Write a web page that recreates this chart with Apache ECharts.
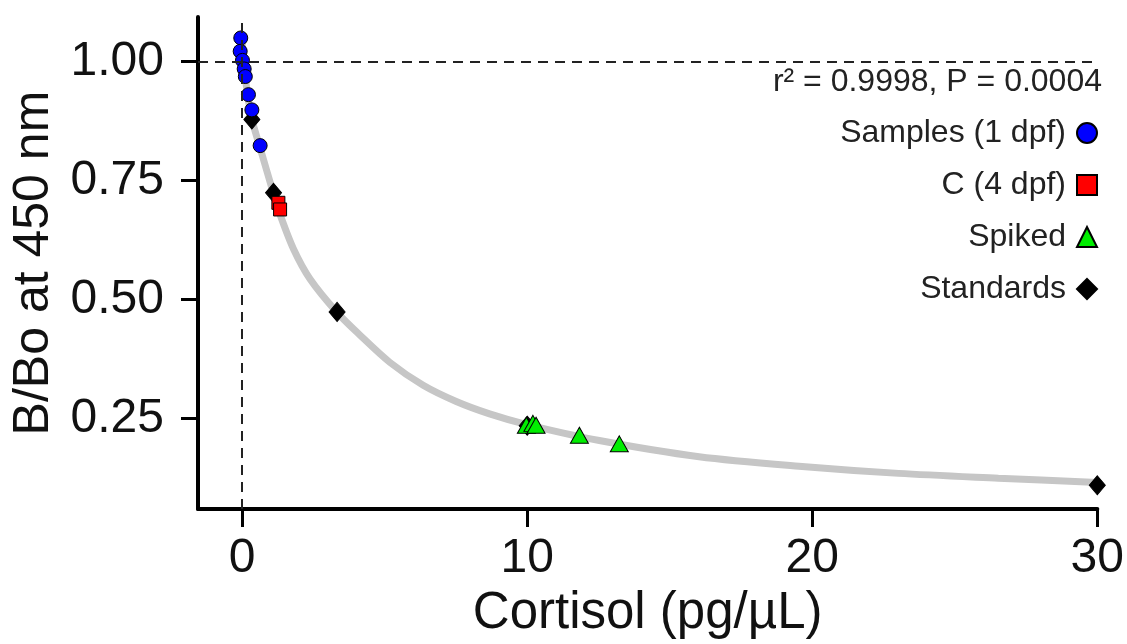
<!DOCTYPE html>
<html>
<head>
<meta charset="utf-8">
<title>Cortisol standard curve</title>
<script src="https://cdn.jsdelivr.net/npm/echarts@6/dist/echarts.min.js"></script>
<style>
body{margin:0;background:#fff;}
#main{width:1127px;height:644px;}
</style>
</head>
<body>
<div id="main"></div>
<script>
// points: [cortisol pg/uL, B/Bo]
var samples=[[-0.05,1.049],[-0.07,1.021],[0.01,1.002],[0.07,0.984],[0.11,0.968],[0.22,0.930],[0.34,0.898],[0.63,0.823]]
var cDpf=[[1.27,0.703],[1.33,0.689]]
var spiked=[[9.97,0.236],[10.2,0.240],[10.31,0.236],[11.83,0.215],[13.23,0.197]]
var standards=[[0.34,0.878],[1.1,0.724],[3.33,0.474],[10.0,0.235],[30,0.110]]
var fitCurve=[[0,1.06],[0.03,1.0],[0.1,0.97],[0.2,0.925],[0.34,0.878],[0.63,0.818],[1.1,0.722],[1.33,0.678],[1.8,0.606],[2.38,0.543],[3.31,0.474],[4.1,0.427],[5.18,0.368],[6.35,0.320],[7.51,0.286],[8.68,0.260],[9.96,0.238],[12.53,0.204],[16.03,0.170],[19.53,0.150],[23.03,0.135],[26.53,0.125],[30,0.116]]
var xTicks=[0,10,20,30]
var yTicks=[0.25,0.5,0.75,1.0]
var fitText='r\u00b2 = 0.9998, P = 0.0004'

var font='"Liberation Sans", Arial, sans-serif'
var chartDom=document.getElementById('main')
var myChart=echarts.init(chartDom)
var option={
	animation:false,
	backgroundColor:'#fff',
	grid:{left:198,right:27,top:17,bottom:134},
	legend:{
		orient:'vertical',
		align:'right',
		right:24,
		top:112,
		itemWidth:20,
		itemHeight:20,
		itemGap:20,
		selectedMode:false,
		textStyle:{fontSize:32,color:'#222',fontFamily:font,padding:[0,6,0,0]},
		data:['Samples (1 dpf)','C (4 dpf)','Spiked','Standards']
	},
	graphic:[{
		type:'text',
		right:25,
		top:66,
		style:{text:fitText,fontSize:32,fill:'#222',fontFamily:font}
	}],
	xAxis:{
		type:'value',
		min:-1.55,
		max:30,
		name:'Cortisol (pg/\u00b5L)',
		nameLocation:'middle',
		nameGap:74,
		nameTextStyle:{fontSize:51,color:'#111',fontFamily:font},
		splitLine:{show:false},
		axisLine:{onZero:false,lineStyle:{color:'#000',width:4}},
		axisTick:{customValues:xTicks,length:18,lineStyle:{color:'#000',width:3}},
		axisLabel:{customValues:xTicks,margin:26,fontSize:48,color:'#111',fontFamily:font}
	},
	yAxis:{
		type:'value',
		min:0.06,
		max:1.093,
		name:'B/Bo at 450 nm',
		nameLocation:'middle',
		nameGap:136,
		nameTextStyle:{fontSize:50,color:'#111',fontFamily:font},
		splitLine:{show:false},
		axisLine:{onZero:false,lineStyle:{color:'#000',width:4}},
		axisTick:{customValues:yTicks,length:17,lineStyle:{color:'#000',width:3}},
		axisLabel:{customValues:yTicks,margin:34,fontSize:48,color:'#111',fontFamily:font,
			formatter:function(v){return v.toFixed(2)}}
	},
	series:[
		{
			name:'fit',
			type:'line',
			data:fitCurve,
			smooth:0.3,
			showSymbol:false,
			silent:true,
			z:1,
			lineStyle:{color:'#c6c6c6',width:7},
			markLine:{
				silent:true,
				symbol:'none',
				label:{show:false},
				lineStyle:{color:'#222',width:2,type:[10,7]},
				data:[{xAxis:0},{yAxis:1}]
			}
		},
		{
			name:'Standards',
			type:'scatter',
			data:standards,
			symbol:'diamond',
			symbolSize:[16,19],
			z:3,
			itemStyle:{color:'#000',borderColor:'#000',borderWidth:1,opacity:1}
		},
		{
			name:'Samples (1 dpf)',
			type:'scatter',
			data:samples,
			symbol:'circle',
			symbolSize:14,
			z:4,
			itemStyle:{color:'#0000ff',borderColor:'#000',borderWidth:1,opacity:1}
		},
		{
			name:'C (4 dpf)',
			type:'scatter',
			data:cDpf,
			symbol:'rect',
			symbolSize:13,
			z:4,
			itemStyle:{color:'#ff0000',borderColor:'#000',borderWidth:1,opacity:1}
		},
		{
			name:'Spiked',
			type:'scatter',
			data:spiked,
			symbol:'triangle',
			symbolSize:[18,16],
			z:4,
			itemStyle:{color:'#00ee00',borderColor:'#000',borderWidth:1,opacity:1}
		}
	]
}
myChart.setOption(option)
</script>
</body>
</html>
